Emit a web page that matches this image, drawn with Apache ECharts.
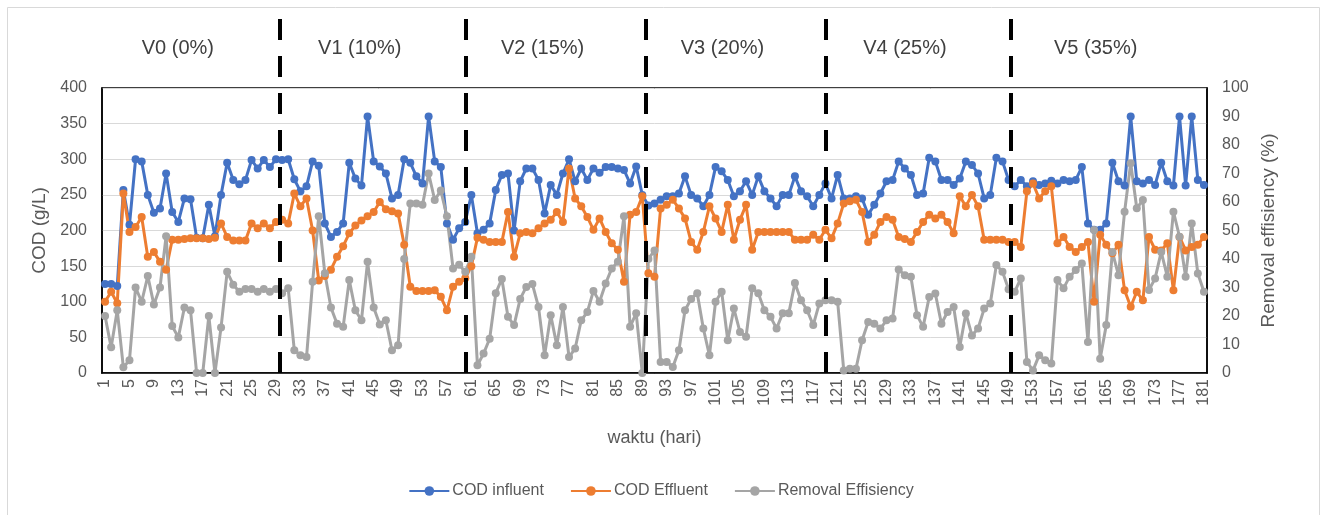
<!DOCTYPE html>
<html>
<head>
<meta charset="utf-8">
<script src="https://cdn.jsdelivr.net/npm/echarts@6/dist/echarts.min.js"></script>
<style>
html,body{margin:0;padding:0;background:#fff;}
#chart{width:1322px;height:515px;}
</style>
</head>
<body>
<div id="chart"></div>
<script>
// ---- data ----
const days = Array.from({length: 181}, (_, i) => String(i + 1));

const codInfluent = [
125,125,122,257,208,300,297,250,225,231,280,226,212,245,244,190,189,236,192,250,295,271,265,271,299,287,299,289,300,299,
300,272,255,262,297,291,210,191,198,210,295,273,263,360,297,290,280,245,250,300,295,276,266,360,297,289,210,187,203,212,
250,196,201,210,257,278,280,200,269,287,287,271,224,264,250,280,300,269,287,271,287,281,289,289,287,285,266,290,250,235,
238,243,248,248,252,276,250,245,234,250,289,283,271,248,255,269,250,276,255,245,234,250,250,276,255,248,234,250,266,245,
278,245,245,248,245,222,236,252,269,271,297,287,278,250,252,302,297,271,271,264,273,297,292,280,245,250,302,297,271,262,
271,262,269,264,266,270,266,271,269,271,289,210,201,201,210,295,269,263,360,269,266,271,264,295,269,263,360,263,360,271,264
];

const codEffluent = [
100,114,98,252,198,205,219,163,170,156,145,187,187,188,189,189,189,188,190,210,191,186,186,186,210,203,210,203,212,215,
210,252,234,245,200,130,136,145,163,178,196,207,214,220,226,240,230,227,224,180,121,115,115,115,116,107,88,121,128,133,
150,190,187,184,184,184,226,163,196,198,196,203,210,215,226,212,287,245,234,219,201,217,198,182,173,128,222,226,248,140,
135,231,236,243,231,217,184,173,198,234,217,198,236,187,215,236,173,198,198,198,198,198,198,187,187,187,194,187,201,189,
210,238,241,243,226,184,194,212,219,215,191,188,184,198,212,222,217,222,212,196,248,234,250,234,187,187,187,187,184,184,
177,255,266,245,255,262,182,191,177,170,177,184,100,194,180,168,180,116,93,114,102,191,173,172,182,116,191,172,177,180,191
];

const removalEff = [
20,9,22,2,4.5,30,25,34,24,30,48,16.5,12.5,23,22,0,0,20,0,16,35.5,31,28.5,29.5,29.5,28.5,29.5,28.5,29.5,28,
29.7,8,6.2,5.6,32,55,35,23,17.3,16.2,32.6,22,18.5,39,23,17,18.5,8,9.7,40,59.5,59.5,59,70,60.7,64,55,36.7,38,35.5,
40.8,2.7,6.8,12,28,33,19.7,16.8,26,30.2,31.2,23.2,6.2,20.3,9.7,23.2,5.6,8.6,18.5,21.4,28.8,25,31.4,36.7,39,55,16.2,21,0,40,
43,3.9,3.9,2.1,8,22,26,28,15.6,6.2,25,28.5,11.5,22.6,14.4,12.7,29.7,28,22,19.7,15.6,21,21,31.6,25.5,22,16.8,24.4,25.5,25.5,
25,0.9,1.5,1.5,11.5,17.9,17.3,15.6,18.5,19.1,36.3,34.3,33.8,20.3,16.2,26.7,27.9,17.3,21.4,23.2,9.1,20.9,13.2,15.6,22.6,24.4,37.9,35.5,29.4,28.5,
33.2,3.9,0.9,6.2,4.5,3.3,32.6,29.7,33.8,36.1,38.4,10.9,50.2,5,16.8,42.5,34.3,56.6,73.6,57.8,60.7,29.1,33.2,42.5,33.8,56.6,47.8,33.8,52.5,34.9,28.5
];

const seriesNames = ['COD influent', 'COD Effluent', 'Removal Effisiency'];
const phaseLabels = ['V0 (0%)', 'V1 (10%)', 'V2 (15%)', 'V3 (20%)', 'V4 (25%)', 'V5 (35%)'];
// phase boundaries in day units (position on the day axis)
const phaseBoundaries = [29.6, 60.1, 89.5, 119, 149.3];
const dayRange = [0.5, 181.5];

// ---- chart ----
const REG = "'Liberation Sans', Arial, sans-serif";
const colors = ['#4472C4', '#ED7D31', '#A5A5A5'];

const edges = [dayRange[0], ...phaseBoundaries, dayRange[1]];
const areaData = phaseLabels.map((lab, i) => [
  {xAxis: edges[i], name: lab},
  {xAxis: edges[i + 1]}
]);

const chart = echarts.init(document.getElementById('chart'), null, {renderer: 'canvas'});

function lineSeries(name, data, yIdx, color) {
  return {
    name: name, type: 'line', data: data,
    xAxisIndex: 0, yAxisIndex: yIdx,
    symbol: 'circle', symbolSize: 8, showAllSymbol: true,
    lineStyle: {width: 3, color: color},
    itemStyle: {color: color},
    emphasis: {disabled: true},
    z: 3
  };
}

const option = {
  animation: false,
  backgroundColor: '#fff',
  color: colors,
  graphic: [{
    type: 'rect', silent: true, z: 0,
    shape: {x: 7.5, y: 7.5, width: 1312, height: 520},
    style: {fill: 'none', stroke: '#d9d9d9', lineWidth: 1}
  }],
  legend: {
    data: seriesNames,
    bottom: 11, left: 'center',
    itemWidth: 40, itemHeight: 12, itemGap: 26,
    textStyle: {fontFamily: REG, fontSize: 16, color: '#595959', padding: [0, 0, 0, -2]}
  },
  grid: [
    {left: 102, right: 115, top: 88, bottom: 142, show: true, borderColor: '#000', borderWidth: 1.5},
    {left: 102, right: 115, top: 10, bottom: 142}
  ],
  xAxis: [
    {
      type: 'category', data: days, gridIndex: 0, boundaryGap: true,
      axisLine: {show: true, lineStyle: {color: '#000', width: 1.5}},
      axisTick: {show: false},
      axisLabel: {interval: 3, rotate: 90, fontFamily: REG, fontSize: 16, color: '#595959', margin: 6},
      splitLine: {show: false},
      name: 'waktu (hari)', nameLocation: 'middle', nameGap: 56,
      nameTextStyle: {fontFamily: REG, fontSize: 18, color: '#595959'}
    },
    {type: 'value', gridIndex: 1, min: dayRange[0], max: dayRange[1], show: false}
  ],
  yAxis: [
    {
      type: 'value', gridIndex: 0, min: 0, max: 400, interval: 50, position: 'left',
      axisLine: {show: true, lineStyle: {color: '#000', width: 1.5}},
      axisTick: {show: false},
      axisLabel: {fontFamily: REG, fontSize: 16, color: '#595959', margin: 15},
      splitLine: {show: true, lineStyle: {color: '#d9d9d9', width: 1}},
      name: 'COD (g/L)', nameLocation: 'middle', nameGap: 46, nameRotate: 90,
      nameTextStyle: {fontFamily: REG, fontSize: 19, color: '#595959'}
    },
    {
      type: 'value', gridIndex: 0, min: 0, max: 100, interval: 10, position: 'right',
      axisLine: {show: true, lineStyle: {color: '#000', width: 1.5}},
      axisTick: {show: false},
      axisLabel: {fontFamily: REG, fontSize: 16, color: '#595959', margin: 15},
      splitLine: {show: false},
      name: 'Removal effisiency (%)', nameLocation: 'middle', nameGap: 48, nameRotate: 90,
      nameTextStyle: {fontFamily: REG, fontSize: 19, color: '#595959'}
    },
    {type: 'value', gridIndex: 1, min: 0, max: 1, show: false}
  ],
  series: [
    lineSeries(seriesNames[0], codInfluent, 0, colors[0]),
    lineSeries(seriesNames[1], codEffluent, 0, colors[1]),
    lineSeries(seriesNames[2], removalEff, 1, colors[2]),
    {
      name: 'phases', type: 'line', xAxisIndex: 1, yAxisIndex: 2, data: [],
      silent: true, z: 10,
      markLine: {
        silent: true, symbol: 'none', animation: false,
        label: {show: false},
        lineStyle: {color: '#000', type: [21, 16], width: 4},
        data: phaseBoundaries.map(v => ({xAxis: v}))
      },
      markArea: {
        silent: true,
        itemStyle: {color: 'rgba(0,0,0,0)'},
        label: {show: true, position: 'insideTop', distance: 28, offset: [-13, 0],
                fontFamily: REG, fontSize: 20, color: '#404040'},
        data: areaData
      }
    }
  ]
};
chart.setOption(option);
</script>
</body>
</html>
